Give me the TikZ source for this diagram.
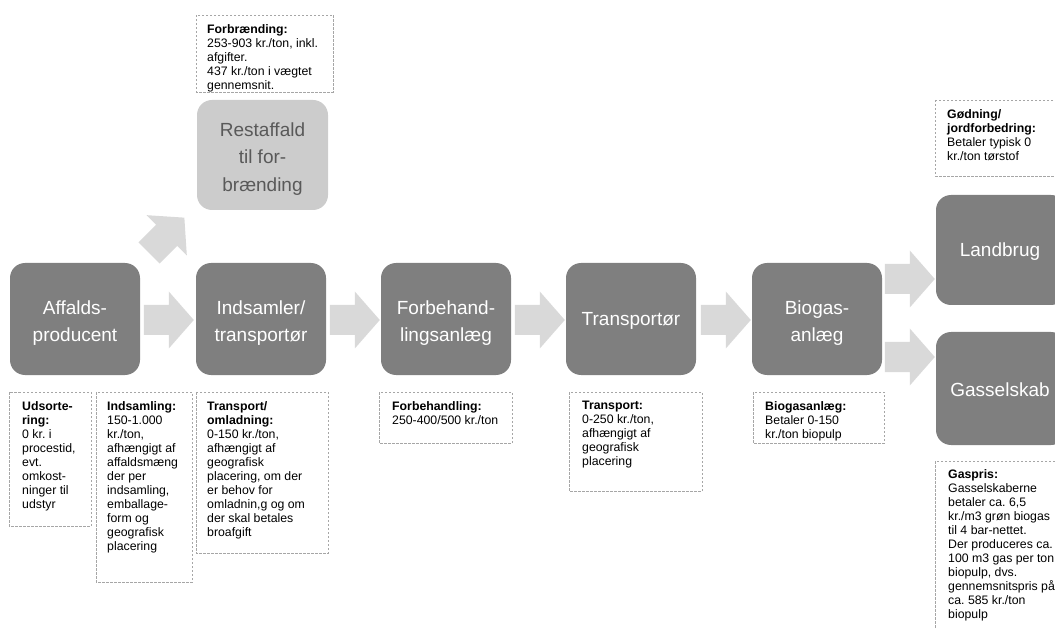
\documentclass[tikz,border=0pt]{standalone}
\usepackage{fontspec}
\setmainfont{Liberation Sans}
\usetikzlibrary{calc}
\definecolor{boxgray}{HTML}{7F7F7F}
\definecolor{lightboxgray}{HTML}{CCCCCC}
\definecolor{lighttext}{HTML}{595959}
\definecolor{arrowgray}{HTML}{D9D9D9}
\definecolor{dashgray}{HTML}{A6A6A6}
\begin{document}
\frenchspacing
\begin{tikzpicture}[x=1pt,y=-1pt,
  mainbox/.style={rounded corners=15pt, fill=boxgray,
    minimum width=130pt, minimum height=112pt, inner sep=0pt},
  lightbox/.style={mainbox, fill=lightboxgray},
  boxtext/.style={text=white, font=\fontsize{19}{27.5}\selectfont,
    align=center, inner sep=0pt},
  lighttextstyle/.style={boxtext, text=lighttext},
  notebox/.style={draw=dashgray, line width=0.9pt, dash pattern=on 2.5pt off 1.5pt},
  notetext/.style={font=\fontsize{12.3}{14}\selectfont, align=left,
    inner sep=0pt, anchor=north west, text=black},
  pics/blockarrow/.style={code={
    \fill[arrowgray] (0,-15) -- (25,-15) -- (25,-28.5) -- (50,0)
      -- (25,28.5) -- (25,15) -- (0,15) -- cycle;}}
]
\useasboundingbox (0,0) rectangle (1055,628);
\clip (0,0) rectangle (1055,628);

% main boxes
\node[mainbox] (prod) at (75,319) {};
\node[mainbox] (ind) at (261,319) {};
\node[mainbox] (forb) at (446,319) {};
\node[mainbox] (trans) at (631,319) {};
\node[mainbox] (bio) at (817,319) {};
\node[mainbox, minimum height=110pt] (land) at (1001,250) {};
\node[mainbox, minimum height=113pt] (gas) at (1001,388.5) {};
\node[lightbox, minimum width=131pt, minimum height=110pt] (rest) at (262.5,155) {};

\node[boxtext] (prodt) at ($(prod.center)+(0,4)$) {Affalds-\\producent};
\node[boxtext] (indt) at ($(ind.center)+(0,4)$) {Indsamler/\\transportør};
\node[boxtext] (forbt) at ($(forb.center)+(0,4)$) {Forbehand-\\lingsanlæg};
\node[boxtext] (transt) at ($(trans.center)+(0,2)$) {Transportør};
\node[boxtext] (biot) at ($(bio.center)+(0,4)$) {Biogas-\\anlæg};
\node[boxtext] (landt) at ($(land.center)+(-1,1.5)$) {Landbrug};
\node[boxtext] (gast) at ($(gas.center)+(-1,1)$) {Gasselskab};
\node[lighttextstyle] (restt) at ($(rest.center)+(0,4)$) {Restaffald\\til for-\\brænding};

% block arrows
\pic at ($(ind.west)+(-52,1)$) {blockarrow};
\pic at ($(forb.west)+(-51,1)$) {blockarrow};
\pic at ($(trans.west)+(-51,1)$) {blockarrow};
\pic at ($(bio.west)+(-51,1)$) {blockarrow};
\pic at ($(land.west)+(-51,29)$) {blockarrow};
\pic at ($(gas.west)+(-51,-31.5)$) {blockarrow};
\pic[rotate=45] at (149,253) {blockarrow};

% notes
\draw[notebox] (196,15) rectangle (333,92);
\node[notetext] (nforbr) at (207,24) {\textbf{Forbrænding:}\\253-903 kr./ton, inkl.\\afgifter.\\437 kr./ton i vægtet\\gennemsnit.};

\draw[notebox] (9,392) rectangle (91,526);
\node[notetext] (nuds) at (22,401) {\textbf{Udsorte-}\\\textbf{ring:}\\0 kr. i\\procestid,\\evt.\\omkost-\\ninger til\\udstyr};

\draw[notebox] (96,392) rectangle (192,582);
\node[notetext] (nind) at (107,401) {\textbf{Indsamling:}\\150-1.000\\kr./ton,\\afhængigt af\\affaldsmæng\\der per\\indsamling,\\emballage-\\form og\\geografisk\\placering};

\draw[notebox] (196,392) rectangle (328,553);
\node[notetext] (noml) at (207,401) {\textbf{Transport/}\\\textbf{omladning:}\\0-150 kr./ton,\\afhængigt af\\geografisk\\placering, om der\\er behov for\\omladnin,g og om\\der skal betales\\broafgift};

\draw[notebox] (379,392) rectangle (512,443);
\node[notetext] (nforb) at (392,401) {\textbf{Forbehandling:}\\250-400/500 kr./ton};

\draw[notebox] (569,392) rectangle (702,491);
\node[notetext] (ntrans) at (582,401) {\textbf{Transport:}\\0-250 kr./ton,\\afhængigt af\\geografisk\\placering};

\draw[notebox] (753,392) rectangle (884,443);
\node[notetext] (nbio) at (765,401) {\textbf{Biogasanlæg:}\\Betaler 0-150\\kr./ton biopulp};

\draw[notebox] (935,100) rectangle (1070,176);
\node[notetext] (ngod) at (947,109) {\textbf{Gødning/}\\\textbf{jordforbedring:}\\Betaler typisk 0\\kr./ton tørstof};

\draw[notebox] (935,461) rectangle (1070,640);
\node[notetext] (ngas) at (948,469) {\textbf{Gaspris:}\\Gasselskaberne\\betaler ca. 6,5\\kr./m3 grøn biogas\\til 4 bar-nettet.\\Der produceres ca.\\100 m3 gas per ton\\biopulp, dvs.\\gennemsnitspris på\\ca. 585 kr./ton\\biopulp};
\end{tikzpicture}
\end{document}
